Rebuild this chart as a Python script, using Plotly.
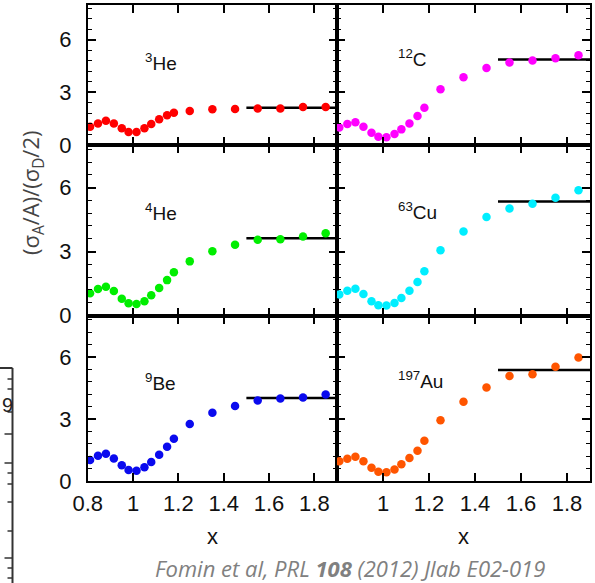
import plotly.graph_objects as go

# ---------------- data ----------------
x_vals = [0.81, 0.845, 0.88, 0.915, 0.95, 0.98, 1.015, 1.05, 1.08, 1.115,
          1.15, 1.18, 1.25, 1.35, 1.45, 1.55, 1.65, 1.75, 1.85]

he3 = [1.04, 1.23, 1.38, 1.23, 0.95, 0.74, 0.74, 0.95, 1.19, 1.46,
       1.69, 1.84, 1.93, 2.03, 2.05, 2.08, 2.08, 2.16, 2.16]
c12 = [1.00, 1.19, 1.29, 1.04, 0.70, 0.47, 0.44, 0.63, 0.89, 1.23,
       1.65, 2.12, 3.18, 3.86, 4.39, 4.70, 4.81, 4.94, 5.11]
he4 = [1.04, 1.24, 1.35, 1.15, 0.79, 0.58, 0.54, 0.67, 0.95, 1.29,
       1.66, 2.03, 2.54, 3.02, 3.32, 3.55, 3.58, 3.71, 3.86]
cu63 = [0.99, 1.16, 1.26, 1.01, 0.67, 0.48, 0.47, 0.59, 0.82, 1.16,
        1.57, 2.08, 3.06, 3.94, 4.62, 5.02, 5.24, 5.53, 5.88]
be9 = [1.01, 1.22, 1.32, 1.09, 0.76, 0.53, 0.50, 0.66, 0.92, 1.27,
       1.66, 2.04, 2.75, 3.30, 3.62, 3.89, 3.99, 4.04, 4.18]
au197 = [0.95, 1.08, 1.17, 0.95, 0.64, 0.45, 0.42, 0.56, 0.81, 1.11,
         1.46, 1.95, 2.94, 3.83, 4.52, 5.07, 5.16, 5.52, 5.97]

series = [he3, c12, he4, cu63, be9, au197]
nuclei_labels = ["<sup>3</sup>He", "<sup>12</sup>C", "<sup>4</sup>He",
                 "<sup>63</sup>Cu", "<sup>9</sup>Be", "<sup>197</sup>Au"]
plateau = [2.12, 4.87, 3.63, 5.35, 4.01, 5.36]
plateau_x = [1.5, 1.9]
label_pos = [(1.045, 4.7), (1.058, 4.95), (1.045, 4.85),
             (1.055, 4.9), (1.045, 4.8), (1.055, 4.88)]

x_ticks_left = [0.8, 1, 1.2, 1.4, 1.6, 1.8]
x_ticks_right = [1, 1.2, 1.4, 1.6, 1.8]
y_ticks = [0, 3, 6]

# ---------------- style ----------------
W, H = 595, 583
colors = ["#ff0000", "#ff00ff", "#00ee00", "#00eeff", "#0a0aee", "#ff5500"]
col_px = [(87.8, 337.0), (337.0, 590.0)]
row_px = [(4.5, 145.0), (145.0, 315.5), (315.5, 481.0)]
FONT = "Liberation Sans, Arial, sans-serif"

fig = go.Figure()
layout = dict(
    width=W, height=H, autosize=False,
    margin=dict(l=0, r=0, t=0, b=0, pad=0),
    paper_bgcolor="white", plot_bgcolor="white",
    showlegend=False,
    font=dict(family=FONT, size=20, color="#111111"),
)

annotations = []
for i in range(6):
    r, c = divmod(i, 2)
    n = i + 1
    xa = "x" if n == 1 else f"x{n}"
    ya = "y" if n == 1 else f"y{n}"
    xkey = "xaxis" if n == 1 else f"xaxis{n}"
    ykey = "yaxis" if n == 1 else f"yaxis{n}"
    x0, x1 = col_px[c]
    y0, y1 = row_px[r]
    bottom = (r == 2)
    tv = x_ticks_left if c == 0 else x_ticks_right
    layout[xkey] = dict(
        domain=[x0 / W, x1 / W], anchor=ya, range=[0.8, 1.9],
        showline=True, linecolor="black", linewidth=2, mirror="ticks",
        ticks="inside", ticklen=8, tickwidth=1.5, tickcolor="black",
        tickvals=tv, ticktext=[f"{v:g}" for v in tv],
        showticklabels=bottom, showgrid=False, zeroline=False,
        tickfont=dict(size=22, color="#111111", family=FONT),
        ticklabelstandoff=2, automargin=False,
    )
    layout[ykey] = dict(
        domain=[1 - y1 / H, 1 - y0 / H], anchor=xa, range=[0, 8],
        showline=True, linecolor="black", linewidth=2, mirror="ticks",
        ticks="inside", ticklen=8, tickwidth=1.5, tickcolor="black",
        tickvals=y_ticks, ticktext=[str(v) for v in y_ticks],
        showticklabels=(c == 0), showgrid=False, zeroline=False,
        tickfont=dict(size=22, color="#111111", family=FONT),
        ticklabelstandoff=10, automargin=False,
        minor=dict(dtick=0.6, tick0=0, ticks="inside", ticklen=4,
                   tickwidth=1.2, tickcolor="black", showgrid=False),
    )
    # plateau line
    fig.add_trace(go.Scatter(
        x=plateau_x, y=[plateau[i], plateau[i]], mode="lines",
        line=dict(color="black", width=2.5), xaxis=xa, yaxis=ya,
        hoverinfo="skip"))
    # data points
    fig.add_trace(go.Scatter(
        x=x_vals, y=series[i], mode="markers",
        marker=dict(color=colors[i], size=8.5, line=dict(width=0)),
        xaxis=xa, yaxis=ya))
    lx, ly = label_pos[i]
    annotations.append(dict(
        x=lx, y=ly, xref=xa, yref=ya, text=nuclei_labels[i],
        showarrow=False, xanchor="left", yanchor="middle",
        font=dict(size=19, color="#111111", family=FONT)))
    if bottom:
        annotations.append(dict(
            x=(x0 + x1) / 2 / W, y=1 - 536 / H, xref="paper", yref="paper",
            text="x", showarrow=False, xanchor="center", yanchor="middle",
            font=dict(size=22, color="#111111", family=FONT)))

# y-axis title
annotations.append(dict(
    x=32 / W, y=1 - 193 / H, xref="paper", yref="paper",
    text="(σ<sub>A</sub>/A)/(σ<sub>D</sub>/2)", textangle=-90,
    showarrow=False, xanchor="center", yanchor="middle",
    font=dict(size=22, color="#444444", family="Open Sans, sans-serif")))

# citation footer
annotations.append(dict(
    x=350 / W, y=1 - 568 / H, xref="paper", yref="paper",
    text="<i>Fomin et al, PRL <b>108</b> (2012) Jlab E02-019</i>",
    showarrow=False, xanchor="center", yanchor="middle",
    font=dict(size=22, color="#808080", family="Open Sans, sans-serif")))

# fragment of a neighbouring figure at the left edge
shapes = [
    dict(type="line", xref="paper", yref="paper", x0=12.5 / W, x1=12.5 / W,
         y0=0, y1=1 - 368 / H, line=dict(color="#333333", width=2)),
    dict(type="line", xref="paper", yref="paper", x0=0, x1=12.5 / W,
         y0=1 - 368 / H, y1=1 - 368 / H, line=dict(color="#333333", width=2)),
]
frag_ticks = [(379, 5), (389, 5), (412, 5), (434, 8), (463, 8), (473, 5),
              (484, 5), (502, 5), (531, 5), (558, 8), (568, 5), (578, 5)]
for py, ln in frag_ticks:
    shapes.append(dict(type="line", xref="paper", yref="paper",
                       x0=(12.5 - ln) / W, x1=12.5 / W,
                       y0=1 - py / H, y1=1 - py / H,
                       line=dict(color="#333333", width=1.5)))
annotations.append(dict(
    x=0, y=1 - 405 / H, xref="paper", yref="paper", text="9",
    showarrow=False, xanchor="left", yanchor="middle",
    font=dict(size=20, color="#222222", family=FONT)))

layout["annotations"] = annotations
layout["shapes"] = shapes
fig.update_layout(**layout)
fig.write_html(
    "out.html",
    config={"displayModeBar": False},
    post_script="document.body.style.margin='0';document.body.style.overflow='hidden';",
)
